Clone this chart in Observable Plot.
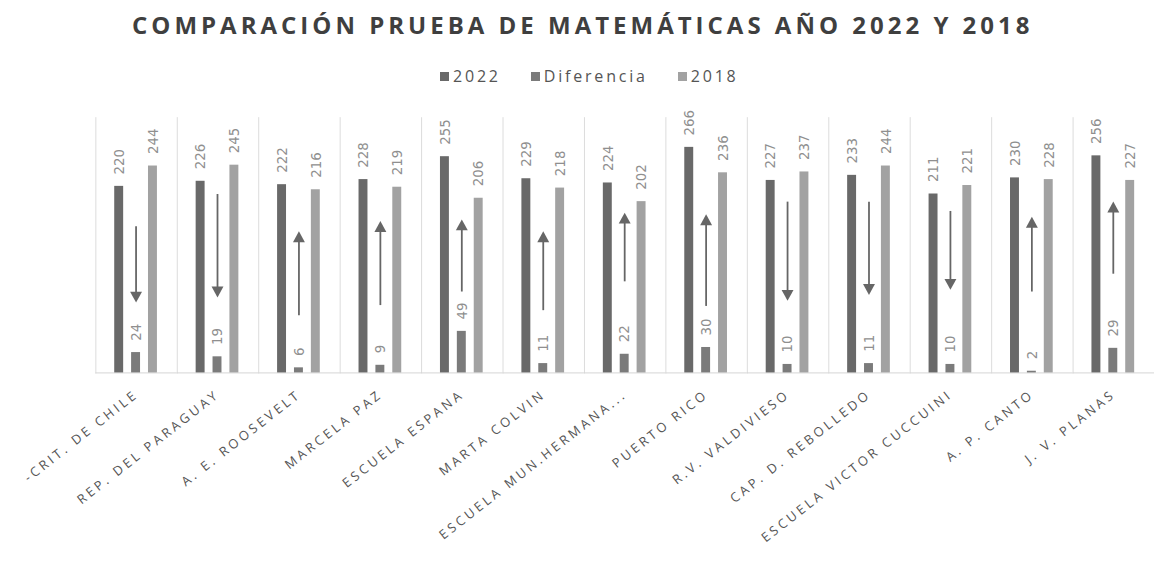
<!DOCTYPE html>
<html>
<head>
<meta charset="utf-8">
<script src="https://cdn.jsdelivr.net/npm/d3@7"></script>
<script src="https://cdn.jsdelivr.net/npm/@observablehq/plot@0.6"></script>
<style>
  html, body { margin: 0; padding: 0; background: #fff; overflow: hidden; width: 1158px; height: 575px; }
  #wrap { position: relative; width: 1158px; height: 575px; }
  #title { position: absolute; top: 8px; left: 132px; white-space: nowrap;
           font-family: "Open Sans", sans-serif; font-weight: 700; font-size: 24px; letter-spacing: 4px; color: #3f3f3f; }
  #legend { position: absolute; top: 65px; left: 440px; white-space: nowrap;
            font-family: "Open Sans", sans-serif; font-size: 16px; letter-spacing: 2.8px; color: #555; }
  #legend span.item { margin-right: 30px; }
  #legend span.sw { display: inline-block; width: 9px; height: 9px; margin-right: 4px; vertical-align: 1px; }
  #chart { position: absolute; top: 0; left: 0; }
</style>
</head>
<body>
<div id="wrap">
  <div id="title"></div>
  <div id="legend"></div>
  <div id="chart"></div>
</div>
<script>
const titleText = "COMPARACIÓN PRUEBA DE MATEMÁTICAS AÑO 2022 Y 2018";
const schools = ["-CRIT. DE CHILE", "REP. DEL PARAGUAY", "A. E. ROOSEVELT", "MARCELA PAZ", "ESCUELA ESPANA",
  "MARTA COLVIN", "ESCUELA MUN.HERMANA...", "PUERTO RICO", "R.V. VALDIVIESO", "CAP. D. REBOLLEDO",
  "ESCUELA VICTOR CUCCUINI", "A. P. CANTO", "J. V. PLANAS"];
const series = ["2022", "Diferencia", "2018"];
const v2022 = [220, 226, 222, 228, 255, 229, 224, 266, 227, 233, 211, 230, 256];
const vDiff = [24, 19, 6, 9, 49, 11, 22, 30, 10, 11, 10, 2, 29];
const v2018 = [244, 245, 216, 219, 206, 218, 202, 236, 237, 244, 221, 228, 227];
// arrow annotations (start and tip, in score units)
const arrowFrom = [173, 211, 68, 80, 96, 74, 108, 79, 202, 202, 191, 96, 117];
const arrowTo = [90, 96, 160, 172, 174, 160, 182, 180, 92, 99, 105, 177, 195];
const colors = ["#696969", "#7b7b7b", "#a2a2a2"];

document.getElementById("title").textContent = titleText;
const legend = document.getElementById("legend");
series.forEach((s, i) => {
  const item = document.createElement("span");
  item.className = "item";
  const sw = document.createElement("span");
  sw.className = "sw";
  sw.style.background = colors[i];
  item.appendChild(sw);
  item.appendChild(document.createTextNode(s));
  legend.appendChild(item);
});

const valuesBySerie = {"2022": v2022, "Diferencia": vDiff, "2018": v2018};
const data = schools.flatMap((school, i) => series.map(serie => ({school, serie, value: valuesBySerie[serie][i]})));
const arrows = schools.map((school, i) => ({school, serie: "Diferencia", from: arrowFrom[i], to: arrowTo[i], up: arrowTo[i] > arrowFrom[i]}));

const triUp = {draw(ctx) { ctx.moveTo(0, -6); ctx.lineTo(6, 5); ctx.lineTo(-6, 5); ctx.closePath(); }};
const triDown = {draw(ctx) { ctx.moveTo(0, 6); ctx.lineTo(6, -5); ctx.lineTo(-6, -5); ctx.closePath(); }};

const labelFont = "'DejaVu Sans Condensed', 'DejaVu Sans', sans-serif";

const chart = Plot.plot({
  width: 1166,
  height: 575,
  marginTop: 118,
  marginBottom: 200,
  marginLeft: 92,
  marginRight: 0,
  style: {background: "transparent", fontFamily: "'Open Sans', sans-serif"},
  fx: {domain: schools, padding: 0, axis: null},
  x: {domain: series, paddingInner: 0.46, paddingOuter: 1.07, axis: null},
  y: {domain: [0, 301], axis: null},
  color: {domain: series, range: colors},
  marks: [
    Plot.frame({anchor: "left", stroke: "#dcdcdc", strokeWidth: 1}),
    Plot.ruleY([0], {stroke: "#d6d6d6"}),
    Plot.barY(data, {fx: "school", x: "serie", y: "value", fill: "serie"}),
    Plot.text(data, {fx: "school", x: "serie", y: "value", text: d => String(d.value), rotate: -90,
      textAnchor: "start", dy: -12, fill: "#8f8f8f", fontSize: 15, fontFamily: labelFont}),
    Plot.link(arrows, {fx: "school", x1: "serie", x2: "serie", y1: "from", y2: "to", stroke: "#666", strokeWidth: 1.8}),
    Plot.dot(arrows.filter(d => d.up), {fx: "school", x: "serie", y: "to", symbol: triUp, fill: "#666", stroke: "none"}),
    Plot.dot(arrows.filter(d => !d.up), {fx: "school", x: "serie", y: "to", symbol: triDown, fill: "#666", stroke: "none"}),
    Plot.axisFx({anchor: "bottom", tickSize: 0, tickPadding: 20, tickRotate: -38, fontSize: 13,
      fill: "#555", label: null, fontFamily: "'Open Sans', sans-serif"})
  ]
});
d3.select(chart).selectAll('g[aria-label*="fx-axis"] text').style("letter-spacing", "3.2px");
document.getElementById("chart").appendChild(chart);
</script>
</body>
</html>
